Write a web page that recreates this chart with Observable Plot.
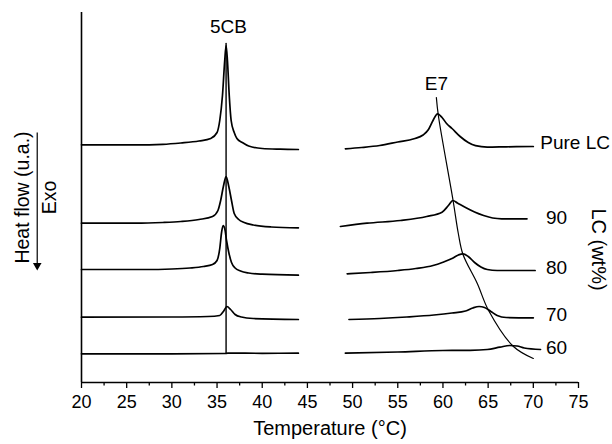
<!DOCTYPE html>
<html>
<head>
<meta charset="utf-8">
<script src="https://cdn.jsdelivr.net/npm/d3@7"></script>
<script src="https://cdn.jsdelivr.net/npm/@observablehq/plot@0.6"></script>
<style>
  html, body { margin: 0; padding: 0; background: #fff; }
  #chart svg { display: block; }
</style>
</head>
<body>
<div id="chart"></div>
<script>
// ---- data (temperature °C, heat flow in arbitrary units) ----
const samples = ["Pure LC", "90", "80", "70", "60"];

// 5CB region
const cbPureT = [20, 26, 29, 31, 33, 34.3, 35.0, 35.3, 35.6, 35.85, 36.0, 36.15, 36.35, 36.56, 36.9, 37.2, 37.8, 38.5, 40, 42, 44];
const cbPureH = [23.77, 23.77, 23.82, 23.95, 24.15, 24.4, 25.0, 26.2, 28.7, 32.2, 33.7, 32.2, 28.7, 26.2, 25.0, 24.4, 24.0, 23.65, 23.4, 23.33, 23.3];
const cb90T = [20, 26, 29, 31, 33, 34.5, 35.1, 35.4, 35.7, 36.0, 36.3, 36.6, 36.9, 37.4, 38, 39, 41, 44];
const cb90H = [15.93, 15.93, 16.0, 16.1, 16.3, 16.6, 17.2, 18.2, 19.6, 20.6, 19.6, 18.2, 16.9, 16.3, 16.0, 15.75, 15.55, 15.47];
const cb80T = [20, 27, 30, 32, 33.5, 34.5, 35.0, 35.3, 35.5, 35.67, 35.85, 36.05, 36.3, 36.6, 37.0, 37.6, 38.5, 40, 44];
const cb80H = [11.3, 11.3, 11.35, 11.45, 11.6, 11.8, 12.2, 13.4, 15.0, 15.7, 15.4, 14.2, 13.0, 12.0, 11.45, 11.15, 10.95, 10.83, 10.73];
const cb70T = [20, 30, 34, 35.3, 35.7, 36.1, 36.5, 37.0, 37.7, 39, 44];
const cb70H = [6.53, 6.55, 6.6, 6.7, 7.1, 7.6, 7.3, 6.8, 6.55, 6.4, 6.3];
const cb60T = [20, 30, 35.8, 36.2, 40, 44];
const cb60H = [2.87, 2.87, 2.9, 2.94, 2.92, 2.93];

// E7 region
const e7PureT = [49.2, 51, 53, 55, 56.8, 57.8, 58.4, 58.9, 59.4, 59.9, 60.4, 61, 61.9, 62.8, 63.6, 64.9, 67, 70];
const e7PureH = [23.37, 23.5, 23.7, 24.05, 24.37, 24.75, 25.3, 26.2, 26.87, 26.5, 25.9, 25.4, 24.6, 24.0, 23.68, 23.54, 23.57, 23.6];
const e790T = [48.65, 51.6, 55.3, 58.2, 59.9, 60.6, 61.1, 61.6, 62.5, 63.5, 64.5, 65.5, 66.5, 69.3];
const e790H = [15.6, 15.93, 16.2, 16.6, 17.03, 17.7, 18.2, 17.95, 17.5, 17.05, 16.7, 16.45, 16.37, 16.37];
const e780T = [49.4, 52, 55, 57, 58.9, 60.0, 61.0, 61.7, 62.2, 62.8, 63.5, 64.2, 64.9, 66, 70.2];
const e780H = [10.87, 11.0, 11.2, 11.4, 11.7, 12.03, 12.4, 12.75, 12.87, 12.6, 12.0, 11.55, 11.3, 11.2, 11.2];
const e770T = [49.6, 53, 56, 59, 61, 62.5, 63.3, 64.0, 64.6, 65.3, 66.0, 67, 70];
const e770H = [6.3, 6.4, 6.55, 6.75, 6.95, 7.15, 7.45, 7.6, 7.5, 7.1, 6.7, 6.5, 6.47];
const e760T = [49.2, 55, 60, 63, 64.9, 66.3, 67.4, 68.2, 69, 70.8];
const e760H = [2.93, 3.05, 3.2, 3.22, 3.3, 3.53, 3.7, 3.65, 3.45, 3.3];

// peak guide lines
const cbGuideT = [36.0, 36.0];
const cbGuideH = [33.9, 3.0];
const e7GuideT = [59.27, 59.49, 61.12, 61.7, 62.22, 63.8, 65.05, 67.8, 70.0];
const e7GuideH = [28.5, 26.7, 18.2, 14.9, 12.8, 9.9, 7.2, 3.6, 2.4];

// labels
const peakNames = ["5CB", "E7"];
const peakLabelT = [36.26, 59.27];
const peakLabelH = [35.55, 29.9];
const sampleLabelT = [70.77, 71.4, 71.4, 71.4, 71.4];
const sampleLabelH = [23.93, 16.5, 11.43, 6.77, 3.43];

const xTicks = [20, 25, 30, 35, 40, 45, 50, 55, 60, 65, 70, 75];
const xMinorTicks = [22.5, 27.5, 32.5, 37.5, 42.5, 47.5, 52.5, 57.5, 62.5, 67.5, 72.5];

// exo arrow annotation (left of the frame)
const exoT = 15.1;
const exoH = [25.0, 11.4];

// ---- build tables ----
const curves = [
  ["Pure LC", "5CB", cbPureT, cbPureH], ["90", "5CB", cb90T, cb90H], ["80", "5CB", cb80T, cb80H],
  ["70", "5CB", cb70T, cb70H], ["60", "5CB", cb60T, cb60H],
  ["Pure LC", "E7", e7PureT, e7PureH], ["90", "E7", e790T, e790H], ["80", "E7", e780T, e780H],
  ["70", "E7", e770T, e770H], ["60", "E7", e760T, e760H]
];
const rows = curves.flatMap(([s, seg, T, H]) => T.map((t, i) => ({key: s + "|" + seg, T: t, H: H[i]})));
const cbGuide = cbGuideT.map((t, i) => ({T: t, H: cbGuideH[i]}));
const e7Guide = e7GuideT.map((t, i) => ({T: t, H: e7GuideH[i]}));
const peakLabels = peakNames.map((n, i) => ({n, T: peakLabelT[i], H: peakLabelH[i]}));
const sampleLabels = samples.map((n, i) => ({n, T: sampleLabelT[i], H: sampleLabelH[i]}));

const font = "'Liberation Sans', Arial, Helvetica, sans-serif";

const chart = Plot.plot({
  width: 612,
  height: 444,
  marginLeft: 81,
  marginRight: 34,
  marginTop: 12,
  marginBottom: 62,
  style: {fontFamily: font, fontSize: "18px", color: "#000", background: "#fff", overflow: "visible"},
  x: {domain: [20, 75]},
  y: {domain: [0, 37], axis: null},
  marks: [
    Plot.axisX(xTicks, {tickSize: 6, tickPadding: 7, fontSize: 18, label: null, strokeWidth: 1.3}),
    Plot.axisX(xMinorTicks, {tickSize: 3.5, tickFormat: () => "", label: null, strokeWidth: 1.3}),
    Plot.ruleY([0], {stroke: "#000", strokeWidth: 1.6}),
    Plot.ruleX([20], {y1: 0, y2: 37, stroke: "#000", strokeWidth: 1.6}),
    Plot.line(rows, {x: "T", y: "H", z: "key", curve: "monotone-x", stroke: "#000", strokeWidth: 1.7}),
    Plot.line(cbGuide, {x: "T", y: "H", stroke: "#000", strokeWidth: 1.4}),
    Plot.line(e7Guide, {x: "T", y: "H", curve: "catmull-rom", stroke: "#000", strokeWidth: 1.2}),
    Plot.text(peakLabels, {x: "T", y: "H", text: "n", fontSize: 19, fill: "#000"}),
    Plot.text(sampleLabels, {x: "T", y: "H", text: "n", textAnchor: "start", fontSize: 19, fill: "#000"}),
    Plot.text(["Temperature (°C)"], {text: d => d, frameAnchor: "bottom", textAnchor: "middle", dy: 52, fontSize: 20, fill: "#000"}),
    Plot.text(["Heat flow (u.a.)"], {text: d => d, frameAnchor: "left", textAnchor: "middle", dx: -59, rotate: -90, fontSize: 19.5, fill: "#000"}),
    Plot.text(["Exo"], {text: d => d, frameAnchor: "left", textAnchor: "middle", dx: -32, rotate: -90, fontSize: 19.5, fill: "#000"}),
    Plot.text(["LC (wt%)"], {text: d => d, frameAnchor: "right", textAnchor: "middle", dx: 20, dy: 52, rotate: 90, fontSize: 20, fill: "#000"}),
    Plot.link([0], {x1: exoT, x2: exoT, y1: exoH[0], y2: exoH[1], stroke: "#000", strokeWidth: 1.2}),
    Plot.dot([0], {x: exoT, y: exoH[1], dy: -3, symbol: "triangle", rotate: 180, r: 3.2, fill: "#000", stroke: "none"})
  ]
});
document.getElementById("chart").appendChild(chart);
</script>
</body>
</html>
